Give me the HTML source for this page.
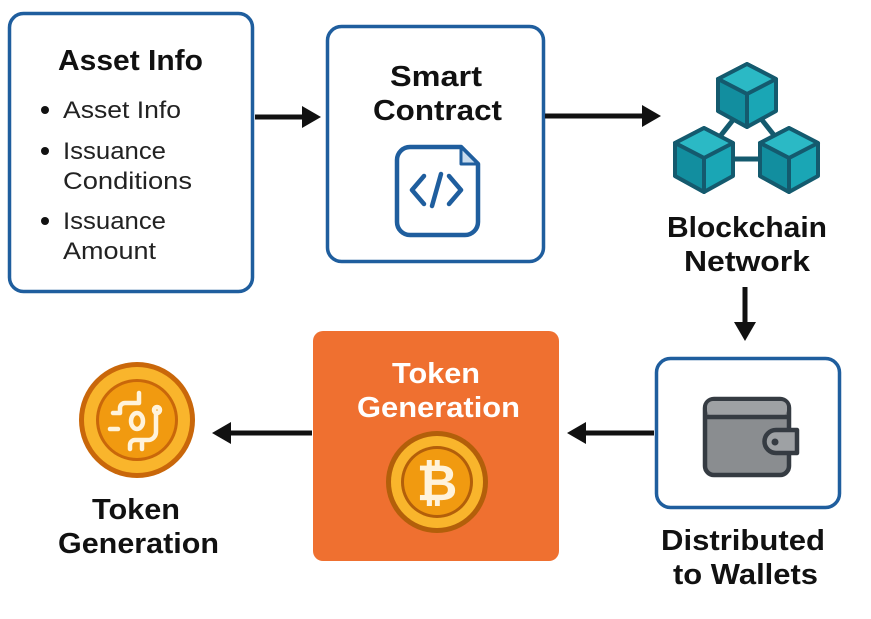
<!DOCTYPE html>
<html><head><meta charset="utf-8"><style>
html,body{margin:0;padding:0;background:#fff;}
svg{display:block;}
text{font-family:"Liberation Sans","DejaVu Sans",sans-serif;}
</style></head><body>
<svg width="871" height="619" viewBox="0 0 871 619" xmlns="http://www.w3.org/2000/svg">
<rect width="871" height="619" fill="#fff"/>
<!-- Box1 -->
<rect x="9.5" y="13.5" width="243" height="278" rx="14" fill="#fff" stroke="#1f5e9e" stroke-width="3.5"/>
<text x="58" y="70" font-size="29" font-weight="bold" fill="#111" textLength="145" lengthAdjust="spacingAndGlyphs">Asset Info</text>
<g font-size="24" fill="#222">
<circle cx="45" cy="110" r="4" fill="#111"/><text x="63" y="118" textLength="118" lengthAdjust="spacingAndGlyphs">Asset Info</text>
<circle cx="45" cy="151" r="4" fill="#111"/><text x="63" y="159" textLength="103" lengthAdjust="spacingAndGlyphs">Issuance</text>
<text x="63" y="189" textLength="129" lengthAdjust="spacingAndGlyphs">Conditions</text>
<circle cx="45" cy="221" r="4" fill="#111"/><text x="63" y="229" textLength="103" lengthAdjust="spacingAndGlyphs">Issuance</text>
<text x="63" y="259" textLength="93" lengthAdjust="spacingAndGlyphs">Amount</text>
</g>
<!-- Arrow1 -->
<line x1="255" y1="117" x2="305" y2="117" stroke="#111" stroke-width="5"/>
<polygon points="302,106 321,117 302,128" fill="#111"/>
<!-- Box2 -->
<rect x="327.5" y="26.5" width="216" height="235" rx="14" fill="#fff" stroke="#1f5e9e" stroke-width="3.5"/>
<text x="390" y="86" font-size="29" font-weight="bold" fill="#111" textLength="92" lengthAdjust="spacingAndGlyphs">Smart</text>
<text x="373" y="120" font-size="29" font-weight="bold" fill="#111" textLength="129" lengthAdjust="spacingAndGlyphs">Contract</text>
<path d="M410,147 H461 L478,164 V222 a13,13 0 0 1 -13,13 H410 a13,13 0 0 1 -13,-13 V160 a13,13 0 0 1 13,-13 Z" fill="#fff" stroke="#1f5e9e" stroke-width="4.5" stroke-linejoin="round"/>
<path d="M461,147 V164 H478 Z" fill="#c8dcee" stroke="#1f5e9e" stroke-width="3" stroke-linejoin="round"/>
<polyline points="424,176 412,190 424,204" fill="none" stroke="#1f5e9e" stroke-width="4.5" stroke-linecap="round" stroke-linejoin="round"/>
<polyline points="449,176 461,190 449,204" fill="none" stroke="#1f5e9e" stroke-width="4.5" stroke-linecap="round" stroke-linejoin="round"/>
<line x1="441" y1="174" x2="432" y2="206" stroke="#1f5e9e" stroke-width="4.5" stroke-linecap="round"/>
<!-- Arrow2 -->
<line x1="545" y1="116" x2="645" y2="116" stroke="#111" stroke-width="5"/>
<polygon points="642,105 661,116 642,127" fill="#111"/>
<!-- Cubes -->
<g stroke="#145a6e" stroke-width="5" stroke-linejoin="round">
<line x1="733" y1="120" x2="714" y2="144"/><line x1="762" y1="120" x2="781" y2="144"/><line x1="730" y1="159" x2="765" y2="159"/>
</g>
<g stroke="#145a6e" stroke-width="4" stroke-linejoin="round">
<polygon points="747,64 776,79 776,111 747,127 718,111 718,79" fill="#1aa6b5"/>
<polygon points="718,79 747,94 776,79 747,64" fill="#2bb9c5"/>
<polygon points="718,79 747,94 747,127 718,111" fill="#128e9f"/>
<polygon points="704,128 733,143 733,176 704,192 675,176 675,143" fill="#1aa6b5"/>
<polygon points="675,143 704,158 733,143 704,128" fill="#2bb9c5"/>
<polygon points="675,143 704,158 704,192 675,176" fill="#128e9f"/>
<polygon points="789,128 818,143 818,176 789,192 760,176 760,143" fill="#1aa6b5"/>
<polygon points="760,143 789,158 818,143 789,128" fill="#2bb9c5"/>
<polygon points="760,143 789,158 789,192 760,176" fill="#128e9f"/>
</g>
<text x="667" y="237" font-size="29" font-weight="bold" fill="#111" textLength="160" lengthAdjust="spacingAndGlyphs">Blockchain</text>
<text x="684" y="271" font-size="29" font-weight="bold" fill="#111" textLength="126" lengthAdjust="spacingAndGlyphs">Network</text>
<!-- Arrow down -->
<line x1="745" y1="287" x2="745" y2="325" stroke="#111" stroke-width="5"/>
<polygon points="734,322 745,341 756,322" fill="#111"/>
<!-- Wallet box -->
<rect x="656.5" y="358.5" width="183" height="149" rx="14" fill="#fff" stroke="#1f5e9e" stroke-width="3.5"/>
<rect x="705" y="399" width="84" height="76" rx="9" fill="#8a8d90" stroke="#353b42" stroke-width="4.5"/>
<rect x="707" y="401" width="80" height="15" rx="6" fill="#9ea1a4"/>
<line x1="707" y1="417" x2="787" y2="417" stroke="#353b42" stroke-width="4.5"/>
<path d="M776,430 H797 V453 H776 a11.5,11.5 0 0 1 0,-23 Z" fill="#9ea1a4" stroke="#353b42" stroke-width="4.5" stroke-linejoin="round"/>
<circle cx="775" cy="442" r="3.5" fill="#353b42"/>
<text x="661" y="550" font-size="29" font-weight="bold" fill="#111" textLength="164" lengthAdjust="spacingAndGlyphs">Distributed</text>
<text x="673" y="584" font-size="29" font-weight="bold" fill="#111" textLength="145" lengthAdjust="spacingAndGlyphs">to Wallets</text>
<!-- Arrow left 1 -->
<line x1="654" y1="433" x2="583" y2="433" stroke="#111" stroke-width="5"/>
<polygon points="586,422 567,433 586,444" fill="#111"/>
<!-- Orange box -->
<rect x="313" y="331" width="246" height="230" rx="10" fill="#ef7030"/>
<text x="392" y="383" font-size="29" font-weight="bold" fill="#fff" textLength="88" lengthAdjust="spacingAndGlyphs">Token</text>
<text x="357" y="417" font-size="29" font-weight="bold" fill="#fff" textLength="163" lengthAdjust="spacingAndGlyphs">Generation</text>
<circle cx="437" cy="482" r="51" fill="#b35f0a"/>
<circle cx="437" cy="482" r="46" fill="#f9b52c"/>
<circle cx="437" cy="482" r="36" fill="#b35f0a"/>
<circle cx="437" cy="482" r="33" fill="#f19a10"/>
<text x="437" y="500" text-anchor="middle" font-size="50" font-weight="bold" fill="#fff3dc">₿</text>
<!-- Arrow left 2 -->
<line x1="312" y1="433" x2="228" y2="433" stroke="#111" stroke-width="5"/>
<polygon points="231,422 212,433 231,444" fill="#111"/>
<!-- Left coin -->
<circle cx="137" cy="420" r="58" fill="#c9670a"/>
<circle cx="137" cy="420" r="53" fill="#f9b52c"/>
<circle cx="137" cy="420" r="41" fill="#c9670a"/>
<circle cx="137" cy="420" r="38" fill="#f19a10"/>
<g fill="none" stroke="#fff3dc" stroke-width="4.5" stroke-linecap="round" stroke-linejoin="round">
<path d="M139,393 V403 H125 a5,5 0 0 0 -5,5 V413 H113"/>
<path d="M110,429 H118"/>
<ellipse cx="137" cy="421" rx="6" ry="8"/>
<path d="M156,414 V432 a8,8 0 0 1 -8,8 H135 a5,5 0 0 0 -5,5 V449"/>
<path d="M142,441 V449"/>
<circle cx="157" cy="410" r="3"/>
</g>
<text x="92" y="519" font-size="29" font-weight="bold" fill="#111" textLength="88" lengthAdjust="spacingAndGlyphs">Token</text>
<text x="58" y="553" font-size="29" font-weight="bold" fill="#111" textLength="161" lengthAdjust="spacingAndGlyphs">Generation</text>
</svg>
</body></html>
